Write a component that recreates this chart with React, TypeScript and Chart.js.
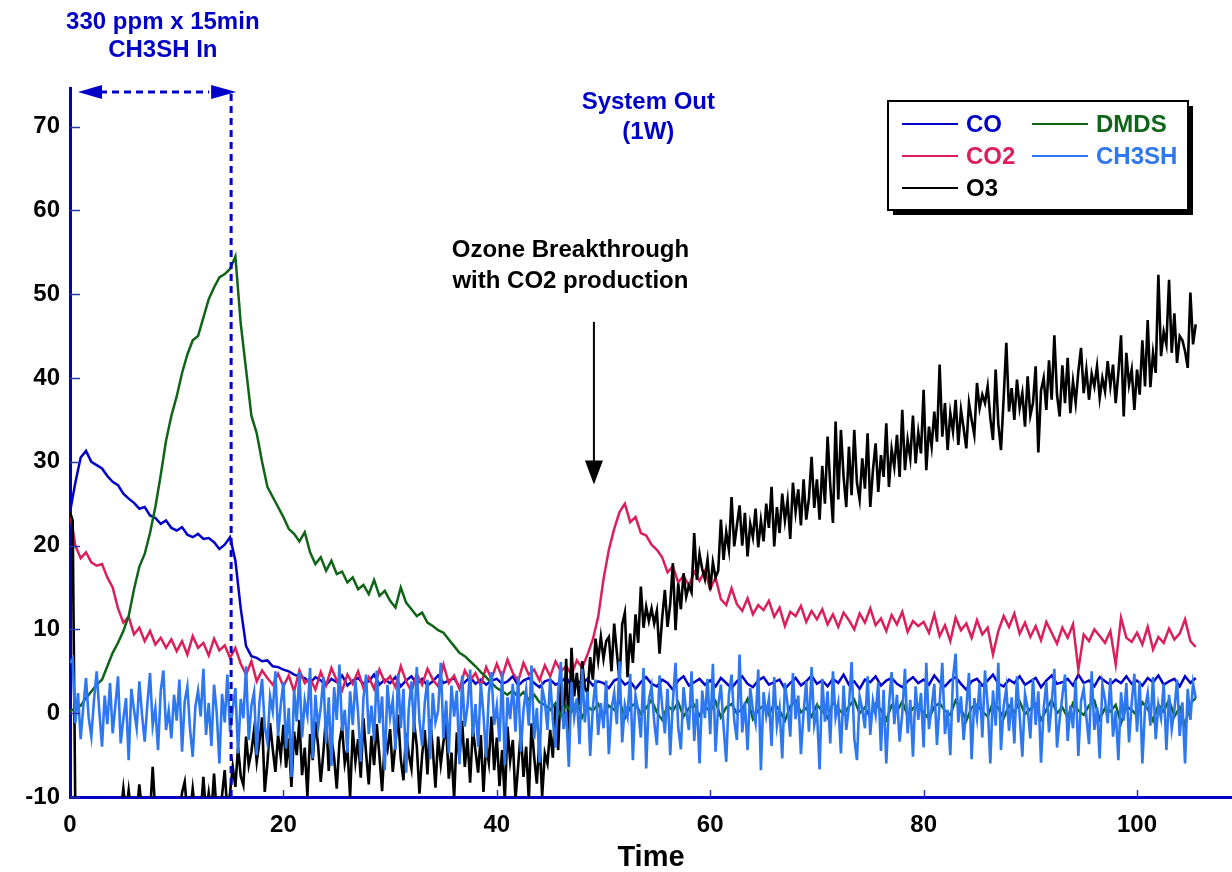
import React, { useEffect, useRef } from 'react';
import { Chart, registerables } from 'chart.js';

Chart.register(...registerables);

// ---- Sampling grids (minutes) ----
const TIME: number[] = Array.from({ length: 212 }, (_, i) => i * 0.5);
const TIME_FINE: number[] = Array.from({ length: 423 }, (_, i) => i * 0.25);

// ---- Series sampled every 0.5 min ----
const CO = [
  24, 27.5, 30.5, 31.3, 30, 29.6, 29.2, 28.3, 27.6, 27.2, 26.2, 25.6, 25.1, 24.4, 24.6, 23.6, 23.3, 22.6, 23.0, 22.1,
  21.8, 22.2, 21.3, 21.0, 21.4, 20.8, 20.9, 20.4, 19.6, 20.1, 21.0, 18.2, 12.5, 8.0, 6.8, 6.6, 6.2, 6.3, 5.6, 5.5,
  5.2, 5.0, 4.6, 4.4, 4.2, 3.6, 4.3, 3.9, 3.4, 4.1, 3.7, 4.5, 3.3, 3.9, 4.2, 3.5, 3.8, 4.6, 3.4, 4.0,
  3.6, 4.3, 3.2, 3.9, 4.4, 3.5, 4.1, 3.3, 3.8, 4.5, 3.6, 3.9, 4.2, 3.1, 3.7, 4.3, 3.5, 4.0, 3.4, 3.9,
  4.1, 3.5, 3.8, 4.4, 3.3, 3.9, 4.2, 3.6, 3.1, 3.8, 4.0, 3.4, 3.7, 4.3, 3.2, 3.9, 3.5, 4.1, 3.3, 3.8,
  3.6, 3.0, 3.9, 4.2, 3.4, 3.8, 2.9, 3.7, 4.3, 3.5, 3.2, 4.0, 3.6, 2.8, 3.9, 4.4, 3.3, 3.7, 4.1, 3.4,
  3.9, 3.2, 4.2, 3.6, 3.0, 3.8, 4.4, 3.5, 3.1, 3.9, 4.3, 3.4, 3.7, 4.0, 2.9, 3.6, 4.2, 3.3, 3.8, 4.5,
  3.5, 3.9, 3.2, 4.1, 3.6, 4.6, 3.4, 3.8, 2.9, 4.0, 3.7, 4.4, 3.3, 3.9, 4.2, 3.5, 3.1, 3.8, 4.3, 3.6,
  4.0, 3.4, 4.5, 3.7, 3.2, 3.9, 4.3, 3.5, 2.8, 3.8, 4.1, 3.3, 3.9, 4.6, 3.5, 3.2, 4.0, 3.6, 4.4, 3.4,
  3.8, 4.2, 3.1, 3.9, 4.5, 3.5, 3.7, 4.1, 3.3, 4.6, 3.6, 3.9, 3.2, 4.3, 3.8, 3.4, 4.0, 3.6, 4.4, 3.5,
  3.9, 3.3, 4.2, 3.7, 4.5, 3.4, 3.8, 4.1, 3.2, 4.4, 3.6, 4.2,
];

const CO2 = [
  24, 20, 18.5, 19.2, 18.0, 17.6, 17.8, 16.2, 15.0, 12.5, 10.8, 11.5, 9.4, 10.2, 8.6, 9.8, 8.2, 9.0, 7.8, 8.8,
  7.4, 8.6, 7.0, 9.2, 7.8, 8.4, 6.9, 8.9, 7.5, 8.1, 6.6, 7.8, 5.9, 4.6, 6.2, 3.8, 5.1, 4.2, 3.4, 4.7,
  3.2, 4.5, 2.6, 5.1, 3.6, 4.2, 2.8, 4.9, 3.3, 5.4, 3.9, 2.7, 4.6, 3.5, 5.0, 3.0, 4.3, 2.9, 5.2, 3.7,
  4.4, 3.1, 5.6, 3.8, 2.6, 4.7, 3.4, 5.3, 4.0, 3.2, 5.8, 3.6, 4.5, 2.9, 5.1, 3.9, 4.8, 3.3, 5.5, 4.1,
  5.9, 4.3, 6.4, 4.8, 3.8, 6.0, 4.6, 5.2, 3.9, 5.7, 4.4, 6.2, 5.0, 5.6, 4.6, 6.3, 5.4, 7.0, 8.8, 11.5,
  16.0, 19.5, 22.0, 24.0, 25.0, 22.8, 23.4, 21.5, 21.2, 20.1, 19.5, 18.6, 16.8, 17.5, 15.6, 16.4, 15.2, 16.9, 15.8, 17.0,
  14.8, 16.2, 13.6, 12.9, 14.9, 13.0, 12.2, 13.7, 11.8, 12.9, 12.3, 13.4, 11.5, 12.6, 10.4, 12.1, 11.6, 12.8, 10.9, 12.2,
  11.2, 12.4, 10.6, 11.8, 10.3, 12.0, 11.1, 10.0, 11.9, 10.8, 12.5, 10.5, 11.3, 9.8, 11.7, 10.6, 12.1, 9.7, 11.0, 10.4,
  10.9, 9.6, 11.8, 9.2, 10.5, 8.6, 11.4, 9.9, 10.7, 9.0, 11.1, 9.4, 10.2, 7.0, 9.8, 11.6, 10.3, 11.9, 9.5, 10.8,
  9.1, 10.4, 8.7, 10.9, 9.6, 8.3, 10.2, 9.0, 10.6, 5.2, 9.4, 8.6, 10.0, 9.2, 8.4, 9.8, 5.8, 11.4, 9.0, 8.5,
  9.6, 8.2, 10.3, 7.6, 9.1, 8.4, 10.1, 8.8, 9.5, 11.2, 8.6, 7.9,
];

const DMDS = [
  0.2, 0.6, 0.9, 1.8, 2.6, 3.4, 4.0, 5.6, 7.2, 8.4, 9.8, 11.6, 14.8, 17.5, 19.0, 21.5, 24.6, 28.4, 32.5, 35.5,
  37.8, 40.6, 42.8, 44.5, 45.0, 47.2, 49.4, 50.8, 52.0, 52.4, 53.0, 54.5, 46.5, 41.0, 35.5, 33.4, 30.0, 27.0, 25.8, 24.6,
  23.4, 22.0, 21.4, 20.5, 21.6, 19.2, 17.8, 18.6, 17.0, 18.2, 16.6, 16.9, 15.6, 16.2, 14.8, 15.3, 14.2, 15.9, 14.0, 14.6,
  13.4, 12.6, 15.0, 13.2, 12.4, 11.6, 12.0, 10.8, 10.4, 9.9, 9.6, 8.8, 8.0, 7.2, 6.8, 6.2, 5.6, 4.9, 4.3, 3.6,
  3.0, 2.6, 2.2, 2.7, 1.9, 2.5, 1.6, 2.2, 1.3, 1.0, 0.4, 1.2, -0.3, 0.9, 0.2, 1.4, -0.5, 0.8, 0.3, 1.1,
  -0.2, 0.9, 0.4, 1.5, -0.6, 0.7, 1.2, -0.1, 0.6, 1.6, 0.1, -0.8, 0.9, 0.3, 1.3, -0.4, 0.6, 1.0, -0.3, 0.8,
  0.2, 1.4, -0.5, 0.7, 1.1, 0.0, 0.5, 1.7, -0.7, 0.4, 0.9, -0.2, 1.2, 0.3, -0.9, 0.8, 1.5, 0.1, 0.6, -0.4,
  1.0, 0.3, -0.6, 1.3, 0.5, -0.1, 0.8, 1.6, 0.0, 0.7, -0.5, 1.1, 0.4, -0.8, 0.9, 0.2, 1.4, -0.3, 0.6, 1.0,
  0.1, -0.7, 0.8, 1.2, 0.3, -0.2, 1.5, 0.5, -0.9, 0.7, 1.0, 0.2, -0.4, 1.3, 0.6, -0.6, 0.9, 0.1, 1.4, -0.1,
  0.5, 1.1, -0.8, 0.4, 1.6, 0.0, 0.7, -0.5, 1.2, 0.3, -0.2, 0.9, 1.5, -0.7, 0.6, 0.2, 1.0, -1.2, 0.8, 0.4,
  -0.3, 1.3, 0.5, -0.9, 1.0, 0.2, 1.6, -0.4, 0.7, -1.5, 1.2, 1.8,
];

// ---- Series sampled every 0.25 min ----
const O3 = [
  24, 23, -12, -12, -12, -12, -12, -12, -12, -12, -12, -12, -12, -12, -12, -12, -12, -12, -12, -12,
  -9.0, -12, -9.2, -12, -12, -12, -8.5, -12, -12, -12, -12, -6.4, -12, -12, -12, -12, -12, -12, -12, -12,
  -12, -12, -9.5, -8.2, -12, -12, -9.0, -12, -12, -12, -7.6, -12, -9.5, -12, -7.2, -12, -12, -9.8, -6.8, -12,
  -9.5, -6.4, -8.8, -4.0, -7.5, -8.6, -2.8, -6.2, -4.6, -2.0, -5.8, -3.4, -0.5, -9.4, -6.0, -1.2, -4.3, -7.0, -2.6, -5.2,
  -1.4, -6.5, -3.0, -8.8, -2.2, -5.0, -0.8, -7.4, -4.1, -9.9, -2.5, -5.6, -1.0, -3.8, -8.2, -4.6, -0.3, -6.9, -2.9, -5.3,
  -9.0, -3.5, -1.6, -6.0, -4.2, -10.0, -2.0, -5.8, -3.1, -7.7, -0.6, -4.8, -8.5, -2.7, -6.2, -1.3, -5.1, -9.3, -3.3, -4.4,
  -1.9, -7.0, -3.6, -0.2, -5.5, -8.0, -2.4, -4.9, -6.6, -1.1, -3.9, -9.6, -5.0, -2.0, -7.3, -0.7, -4.3, -8.9, -2.8, -6.1,
  -3.4, -1.5, -7.8, -4.7, -10.2, -2.3, -5.4, -0.9, -6.4, -3.0, -8.3, -1.8, -4.5, -7.1, -2.6, -9.4, -3.7, -5.9, -0.4, -6.8,
  -2.9, -8.7, -4.4, -10.4, -1.6, -5.7, -3.2, -10.3, -6.3, -2.1, -7.6, -4.0, -10.5, -1.2, -5.2, -8.4, -3.0, -9.9, -4.8, -6.0,
  -2.0, -5.3, 1.2, -4.4, 3.5, -1.5, 6.5, -3.0, 7.8, 2.0, 4.8, 1.0, 6.2, 3.0, 2.4, 6.7, 4.0, 8.9, 6.3, 9.1,
  6.5, 8.6, 9.1, 5.0, 10.7, 7.2, 4.0, 10.6, 12.0, 4.3, 9.5, 6.0, 11.8, 8.4, 15.1, 10.2, 12.7, 11.0, 12.5, 10.7,
  12.2, 7.1, 11.4, 14.7, 10.3, 13.0, 17.9, 9.9, 15.5, 12.4, 16.7, 13.9, 15.2, 14.4, 21.5, 15.9, 19.0, 17.2, 16.0, 18.3,
  14.7, 18.0, 16.2, 17.0, 23.1, 18.3, 21.6, 19.5, 25.8, 19.9, 22.4, 24.8, 20.0, 23.9, 18.7, 22.6, 21.0, 24.4, 19.8, 23.0,
  20.5, 25.0, 22.1, 27.0, 19.9, 24.6, 21.5, 26.2, 23.0, 25.4, 20.8, 27.5, 24.0, 26.7, 22.4, 27.9, 23.1, 25.6, 30.6, 24.5,
  27.9, 23.1, 29.5, 25.0, 33.0, 27.2, 22.7, 34.8, 25.5, 33.8, 28.2, 24.6, 31.8, 26.0, 33.8, 27.5, 25.5, 30.4, 26.8, 33.4,
  24.6, 29.0, 32.2, 26.4, 30.8, 28.2, 34.6, 27.0, 31.5, 29.4, 33.2, 28.2, 36.2, 29.0, 32.6, 30.4, 35.5, 29.8, 33.5, 31.0,
  38.6, 29.0, 34.2, 31.8, 36.0, 32.4, 41.6, 33.0, 37.0, 31.4, 35.8, 33.6, 37.4, 32.0, 36.2, 34.0, 31.6, 37.0, 35.0, 33.2,
  39.4, 36.4, 38.0, 37.0, 39.0, 35.2, 32.6, 41.0, 34.5, 31.4, 37.6, 44.2, 36.0, 38.8, 35.0, 39.8, 36.4, 38.2, 34.2, 40.2,
  35.5, 37.0, 41.4, 31.1, 38.5, 40.0, 36.2, 42.1, 37.4, 45.1, 38.0, 35.4, 41.5, 37.0, 42.4, 35.8, 39.6, 37.0, 40.8, 43.6,
  38.2, 41.0, 37.4, 40.5, 39.0, 41.4, 37.6, 40.0, 38.4, 42.0, 39.0, 41.6, 37.0, 40.6, 45.1, 35.4, 43.0, 39.2, 41.0, 36.2,
  41.0, 38.0, 44.5, 39.0, 46.9, 38.9, 43.0, 40.6, 52.3, 42.6, 45.5, 44.0, 51.7, 43.0, 47.7, 41.8, 45.0, 44.5, 43.2, 41.2,
  50.2, 44.0, 46.4,
];

const CH3SH = [
  6.0, 6.5, -1.2, 2.4, -3.1, 0.8, 4.2, -0.5, -2.8, 1.6, 5.0, 0.2, -4.0, 2.1, -1.3, 3.6, -2.4, 0.9, 4.4, -3.6,
  -0.7, 1.8, -5.6, 2.9, 0.4, -1.8, 3.8, -0.2, -3.4, 1.1, 4.8, -1.5, 0.6, -4.4, 2.6, 5.1, -2.0, 0.3, -3.0, 2.2,
  -0.9, 4.0, -4.6, 1.4, 3.2, -1.9, -5.2, 0.8, 2.7, -0.4, 5.3, -2.6, 1.2, -3.9, 3.4, 0.1, -6.0, 2.3, -1.1, 4.6,
  -2.2, 0.5, 3.0, -4.8, 1.7, -0.6, 5.6, -3.2, 0.9, 2.5, -5.0, 1.3, 4.1, -1.6, -3.5, 2.0, 0.2, 5.0, -2.7, 1.0,
  3.7, -4.2, 0.6, -7.6, 2.8, -1.0, 4.9, -2.9, 1.5, -0.3, 5.4, -5.4, 2.2, -1.7, 0.7, 4.3, -3.6, 1.9, -6.3, 3.1,
  -0.8, 5.8, -2.1, 0.4, -4.7, 2.6, -1.4, 3.9, 0.0, -5.8, 1.8, 4.6, -2.5, 0.9, -3.3, 5.1, -1.2, 2.0, -6.8, 3.4,
  -0.5, 1.6, -4.4, 4.7, -1.8, 2.9, -7.1, 0.6, 3.8, -2.3, 5.5, -0.9, -3.9, 1.3, 4.0, -5.5, 2.4, -1.1, 0.3, 6.0,
  -3.0, 1.5, -4.8, 3.3, -0.4, 2.7, -6.1, 4.5, -1.6, 0.8, 5.2, -2.8, 1.1, -4.0, 3.6, -0.2, -5.3, 2.3, 4.9, -1.4,
  0.9, -3.4, 5.0, -6.2, 1.9, -0.7, 3.5, -2.2, 4.4, -4.6, 0.4, 2.8, -1.5, 5.7, -3.1, 0.6, -5.9, 3.0, 1.4, -2.0,
  4.2, -0.8, -4.1, 2.5, 6.1, -1.9, 0.2, -6.4, 3.7, -0.5, 1.8, -3.7, 5.3, -1.1, 2.6, -5.1, 0.7, 4.0, -2.6, 1.2,
  -1.8, 3.9, -4.9, 0.5, 2.4, -1.3, 6.2, -3.5, 1.0, -0.4, 4.7, -5.6, 2.1, 0.3, -2.9, 5.4, -6.6, 1.6, 3.2, -1.0,
  -3.8, 4.5, 0.8, -2.4, 2.9, -5.0, 1.4, 6.0, -1.7, -4.3, 3.1, 0.2, -2.0, 5.0, -3.3, 1.7, -6.0, 2.7, -0.6, 4.1,
  -2.5, 5.9, -4.6, 0.9, 3.4, -1.6, -5.8, 2.2, 4.6, -0.9, -3.2, 7.0, -2.3, 1.3, -4.4, 3.0, 0.4, -1.2, 5.2, -6.8,
  2.5, -0.3, 1.7, -3.9, 4.3, -1.5, 0.6, -5.4, 3.6, 1.0, -2.8, 4.8, -0.7, 2.1, -4.9, 0.1, 3.8, -2.2, 5.5, -1.4,
  0.3, -6.7, 4.1, -1.0, 2.6, -3.6, 5.0, -0.5, 1.2, -4.8, 3.3, -2.0, 0.8, 6.1, -3.0, -5.6, 2.0, 0.5, -1.8, 4.4,
  -2.6, 1.5, -0.2, 3.7, -4.5, 2.8, -6.0, 0.9, 4.9, -1.3, 2.2, -3.4, 0.0, 5.3, -2.4, 1.6, -5.2, 3.2, -0.8, 2.4,
  -4.1, 6.0, -1.9, 0.7, 3.5, -3.8, 1.3, 6.0, -2.5, 0.4, -5.0, 4.2, 7.1, -1.1, 2.0, -3.2, 0.6, 4.8, -5.5, 1.8,
  -0.6, 3.6, -2.9, 5.1, 1.0, -6.0, 2.7, -1.5, 6.0, -4.4, 0.8, 3.0, -2.1, 1.9, -3.6, 4.4, -0.3, -5.2, 2.3, 0.6,
  -3.0, 4.1, -1.4, 2.6, -5.9, 0.5, 3.7, -2.3, 1.1, 5.3, -4.1, -0.7, 2.0, 4.6, -3.3, 0.9, -1.8, 3.9, -5.1, 1.4,
  2.9, -0.4, -3.7, 5.0, -2.0, 0.7, -5.4, 3.4, 1.6, -1.2, 4.2, -2.8, 0.3, -5.6, 2.5, -0.9, 3.6, -3.5, 1.2, 4.7,
  -2.2, 3.8, -6.0, 0.6, 2.4, -1.5, 4.3, -3.1, 1.0, -0.6, 3.5, -4.4, 2.2, -1.9, 0.4, 4.0, -2.7, 1.3, -6.0, 2.9,
  -0.8, 3.6, 1.8,
];

const X_TICK_VALUES = [0, 20, 40, 60, 80, 100];
const Y_TICK_VALUES = [-10, 0, 10, 20, 30, 40, 50, 60, 70];
const INJECTION = [0, 15.1]; // minutes of CH3SH feed
const BREAKTHROUGH = { time: 49.1, from: 46.7, to: 27.3 };

const FONT = '"Liberation Sans", Arial, sans-serif';
const AXIS_BLUE = '#0000C8';
const COLORS = {
  CO: '#0000C8',
  CO2: '#DC1F5A',
  O3: '#000000',
  DMDS: '#0F6418',
  CH3SH: '#2D78F0',
};

function tri(ctx: CanvasRenderingContext2D, pts: number[][]) {
  ctx.beginPath();
  ctx.moveTo(pts[0][0], pts[0][1]);
  ctx.lineTo(pts[1][0], pts[1][1]);
  ctx.lineTo(pts[2][0], pts[2][1]);
  ctx.closePath();
  ctx.fill();
}

const overlayPlugin = {
  id: 'overlay',
  afterDraw(chart: any) {
    const { ctx, chartArea: ca, scales } = chart;
    const xs = scales.x;
    const ys = scales.y;
    ctx.save();

    // inward tick marks
    ctx.strokeStyle = '#2838A8';
    ctx.lineWidth = 1.5;
    for (const v of Y_TICK_VALUES) {
      const py = Math.round(ys.getPixelForValue(v)) + 0.5;
      ctx.beginPath();
      ctx.moveTo(ca.left, py);
      ctx.lineTo(ca.left + 10, py);
      ctx.stroke();
    }
    for (const v of X_TICK_VALUES.slice(1)) {
      const px = Math.round(xs.getPixelForValue(v)) + 0.5;
      ctx.beginPath();
      ctx.moveTo(px, ca.bottom);
      ctx.lineTo(px, ca.bottom - 7);
      ctx.stroke();
    }

    // injection period arrow + dashed line
    const x0 = xs.getPixelForValue(INJECTION[0]);
    const x1 = xs.getPixelForValue(INJECTION[1]);
    const ay = ca.top + 4;
    ctx.strokeStyle = AXIS_BLUE;
    ctx.fillStyle = AXIS_BLUE;
    ctx.lineWidth = 3;
    ctx.setLineDash([7, 5]);
    ctx.beginPath();
    ctx.moveTo(x0 + 30, ay);
    ctx.lineTo(x1 - 22, ay);
    ctx.stroke();
    ctx.beginPath();
    ctx.moveTo(x1, ay + 2);
    ctx.lineTo(x1, ca.bottom + 4);
    ctx.stroke();
    ctx.setLineDash([]);
    tri(ctx, [[x0 + 8, ay], [x0 + 32, ay - 7], [x0 + 32, ay + 7]]);
    tri(ctx, [[x1 + 5, ay], [x1 - 20, ay - 7], [x1 - 20, ay + 7]]);

    // texts
    ctx.textAlign = 'center';
    ctx.textBaseline = 'middle';
    ctx.font = `bold 24px ${FONT}`;
    ctx.fillStyle = AXIS_BLUE;
    const cx = xs.getPixelForValue(8.7);
    ctx.fillText('330 ppm x 15min', cx, 22);
    ctx.fillText('CH3SH In', cx, 50);
    const sx = xs.getPixelForValue(54.2);
    ctx.fillText('System Out', sx, 102);
    ctx.fillText('(1W)', sx, 132);
    ctx.fillStyle = '#000';
    const ox = xs.getPixelForValue(46.9);
    ctx.fillText('Ozone Breakthrough', ox, 250);
    ctx.fillText('with CO2 production', ox, 281);

    // breakthrough arrow
    const bx = xs.getPixelForValue(BREAKTHROUGH.time);
    const by0 = ys.getPixelForValue(BREAKTHROUGH.from);
    const by1 = ys.getPixelForValue(BREAKTHROUGH.to);
    ctx.strokeStyle = '#000';
    ctx.lineWidth = 2;
    ctx.beginPath();
    ctx.moveTo(bx, by0);
    ctx.lineTo(bx, by1 - 18);
    ctx.stroke();
    tri(ctx, [[bx, by1], [bx - 9, by1 - 24], [bx + 9, by1 - 24]]);

    // legend box
    const L = 888, T = 101, W = 300, H = 109;
    ctx.fillStyle = '#000';
    ctx.fillRect(L + 5, T + 5, W, H);
    ctx.fillStyle = '#fff';
    ctx.fillRect(L, T, W, H);
    ctx.strokeStyle = '#000';
    ctx.lineWidth = 2;
    ctx.strokeRect(L, T, W, H);
    const entries: [string, string, number, number][] = [
      ['CO', COLORS.CO, 0, 0],
      ['DMDS', COLORS.DMDS, 1, 0],
      ['CO2', COLORS.CO2, 0, 1],
      ['CH3SH', COLORS.CH3SH, 1, 1],
      ['O3', COLORS.O3, 0, 2],
    ];
    ctx.textAlign = 'left';
    ctx.font = `bold 24px ${FONT}`;
    for (const [label, color, col, row] of entries) {
      const lx = L + 14 + col * 130;
      const ly = T + 23 + row * 32;
      ctx.strokeStyle = color;
      ctx.lineWidth = 2;
      ctx.beginPath();
      ctx.moveTo(lx, ly);
      ctx.lineTo(lx + 56, ly);
      ctx.stroke();
      ctx.fillStyle = color;
      ctx.fillText(label, lx + 64, ly + 1);
    }
    ctx.restore();
  },
};

function series(times: number[], values: number[]) {
  return times.map((t, i) => ({ x: t, y: values[i] }));
}

export default function App() {
  const ref = useRef<HTMLCanvasElement | null>(null);
  useEffect(() => {
    if (!ref.current) return;
    const mk = (label: string, times: number[], values: number[], color: string, order: number, width = 2.5) => ({
      label,
      data: series(times, values),
      borderColor: color,
      backgroundColor: color,
      borderWidth: width,
      pointRadius: 0,
      tension: 0,
      fill: false,
      order,
    });
    const chart = new Chart(ref.current, {
      type: 'line',
      data: {
        datasets: [
          mk('CO', TIME, CO, COLORS.CO, 5),
          mk('CO2', TIME, CO2, COLORS.CO2, 4),
          mk('O3', TIME_FINE, O3, COLORS.O3, 3, 2.6),
          mk('DMDS', TIME, DMDS, COLORS.DMDS, 2),
          mk('CH3SH', TIME_FINE, CH3SH, COLORS.CH3SH, 1, 2.6),
        ],
      },
      options: {
        animation: false,
        responsive: false,
        devicePixelRatio: 1,
        events: [],
        layout: { padding: { top: 88, right: 0, left: 0, bottom: 0 } },
        plugins: { legend: { display: false }, tooltip: { enabled: false } },
        scales: {
          x: {
            type: 'linear',
            min: 0,
            max: 108.9,
            grid: { display: false, drawTicks: false },
            border: { display: true, color: AXIS_BLUE, width: 3 },
            ticks: {
              stepSize: 20,
              includeBounds: false,
              padding: 14,
              color: '#000',
              font: { family: FONT, size: 24, weight: 'bold' },
            },
            title: {
              display: true,
              text: 'Time',
              color: '#000',
              font: { family: FONT, size: 29, weight: 'bold', lineHeight: 1 },
              padding: { top: 0, bottom: 0 },
            },
            afterFit: (s: any) => {
              s.height = 75;
            },
          },
          y: {
            type: 'linear',
            min: -10,
            max: 74.6,
            grid: { display: false, drawTicks: false },
            border: { display: true, color: AXIS_BLUE, width: 3 },
            ticks: {
              stepSize: 10,
              includeBounds: false,
              padding: 10,
              color: '#000',
              font: { family: FONT, size: 24, weight: 'bold' },
            },
            afterFit: (s: any) => {
              s.width = 70;
            },
          },
        },
      },
      plugins: [overlayPlugin],
    } as any);
    return () => chart.destroy();
  }, []);
  return (
    <div style={{ position: 'absolute', left: 0, top: 0, width: 1232, height: 872, background: '#fff' }}>
      <canvas ref={ref} width={1232} height={872} />
    </div>
  );
}
